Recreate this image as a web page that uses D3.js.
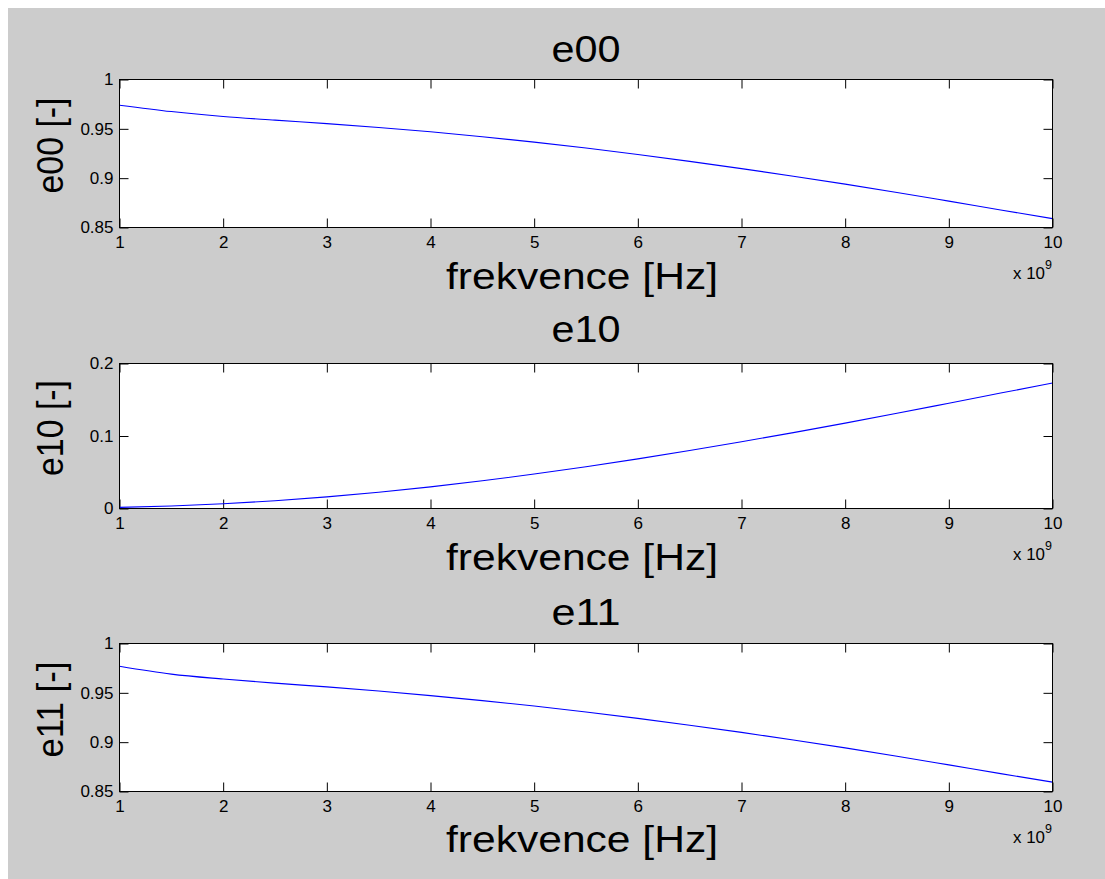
<!DOCTYPE html>
<html><head><meta charset="utf-8">
<script src="https://cdn.jsdelivr.net/npm/d3@7"></script>
<style>
html,body{margin:0;padding:0;background:#fff;}
svg{display:block;}
text{font-family:Arial,"Liberation Sans",sans-serif;fill:#000;}
</style></head>
<body>
<svg id="chart" width="1105" height="879"></svg>
<script>
// frequency in units of 1e9 Hz
const freq = [1,1.5,2,2.5,3,3.5,4,4.5,5,5.5,6,6.5,7,7.5,8,8.5,9,9.5,10];
const e00 = [0.974,0.9675,0.9625,0.9588,0.9553,0.9514,0.9470,0.9420,0.9365,0.9305,0.9240,0.9170,0.9097,0.9020,0.8940,0.8855,0.8767,0.8678,0.8590];
const e10 = [0.0015,0.0035,0.0065,0.0107,0.0160,0.0224,0.0298,0.0382,0.0475,0.0576,0.0684,0.0799,0.0920,0.1047,0.1178,0.1313,0.1452,0.1592,0.1732];
const e11 = [0.977,0.969,0.964,0.9598,0.9560,0.9518,0.9472,0.9421,0.9366,0.9306,0.9241,0.9172,0.9099,0.9022,0.8942,0.8858,0.8770,0.8681,0.8595];
const xTicks = [1,2,3,4,5,6,7,8,9,10];
const yTicksE = [0.85,0.9,0.95,1];
const yTicks10 = [0,0.1,0.2];
const titles = ["e00","e10","e11"];
const yLabels = ["e00 [-]","e10 [-]","e11 [-]"];
const xLabel = "frekvence [Hz]";

const panels = [
  {title:titles[0], ylab:yLabels[0], values:e00, ydom:[0.85,1], yticks:yTicksE, top:79.5, bottom:227.5, titleY:62, xlabY:289},
  {title:titles[1], ylab:yLabels[1], values:e10, ydom:[0,0.2], yticks:yTicks10, top:363.5, bottom:508.5, titleY:342, xlabY:570},
  {title:titles[2], ylab:yLabels[2], values:e11, ydom:[0.85,1], yticks:yTicksE, top:643.5, bottom:791.5, titleY:625, xlabY:852}
];

const svg = d3.select("#chart");
svg.append("rect").attr("x",8).attr("y",8).attr("width",1097).attr("height",871).attr("fill","#cccccc");

const left = 119.5, right = 1052.5;
const x = d3.scaleLinear().domain([1,10]).range([left,right]);
const fmt = d => String(+d.toFixed(2));
const FF = "Arial, Liberation Sans, sans-serif";

panels.forEach(p => {
  const y = d3.scaleLinear().domain(p.ydom).range([p.bottom,p.top]);
  const g = svg.append("g");
  g.append("rect").attr("x",left).attr("y",p.top).attr("width",right-left).attr("height",p.bottom-p.top)
    .attr("fill","#fff").attr("stroke","none");

  // bottom axis (ticks inside)
  const ax = g.append("g").attr("transform",`translate(0,${p.bottom})`)
    .call(d3.axisBottom(x).tickValues(xTicks).tickSize(-9).tickPadding(8).tickFormat(d=>d));
  ax.attr("font-size",null).attr("font-family",null);
  ax.selectAll("text").style("font-size","17px").style("font-family",FF).attr("fill","#000");
  // top axis ticks
  const axT = g.append("g").attr("transform",`translate(0,${p.top})`)
    .call(d3.axisTop(x).tickValues(xTicks).tickSize(-9).tickFormat(""));
  // left axis
  const ay = g.append("g").attr("transform",`translate(${left},0)`)
    .call(d3.axisLeft(y).tickValues(p.yticks).tickSize(-9).tickPadding(6).tickFormat(fmt));
  ay.attr("font-size",null).attr("font-family",null);
  ay.selectAll("text").style("font-size","17px").style("font-family",FF).attr("fill","#000");
  const ayR = g.append("g").attr("transform",`translate(${right},0)`)
    .call(d3.axisRight(y).tickValues(p.yticks).tickSize(-9).tickFormat(""));
  [ax,axT,ay,ayR].forEach(a => { a.selectAll(".domain").remove(); a.selectAll("line").attr("stroke","#000"); });

  // data line
  const line = d3.line().x((d,i)=>x(freq[i])).y(d=>y(d)).curve(d3.curveMonotoneX);
  g.append("path").datum(p.values).attr("d",line).attr("fill","none").attr("stroke","#0000ff").attr("stroke-width",1.1);

  // box
  g.append("rect").attr("x",left).attr("y",p.top).attr("width",right-left).attr("height",p.bottom-p.top)
    .attr("fill","none").attr("stroke","#000").attr("stroke-width",1);

  // title
  g.append("text").attr("x",(left+right)/2).attr("y",p.titleY).attr("text-anchor","middle")
    .attr("font-size","37px").attr("textLength",69).attr("lengthAdjust","spacingAndGlyphs").text(p.title);
  // x label
  g.append("text").attr("x",582).attr("y",p.xlabY).attr("text-anchor","middle")
    .attr("font-size","37px").attr("textLength",272).attr("lengthAdjust","spacingAndGlyphs").text(xLabel);
  // y label
  const cy = (p.top+p.bottom)/2 - 8;
  g.append("text").attr("transform",`translate(63,${cy}) rotate(-90)`).attr("text-anchor","middle")
    .attr("font-size","37px").attr("textLength",96).attr("lengthAdjust","spacingAndGlyphs").text(p.ylab);
  // exponent
  g.append("text").attr("x",1013).attr("y",p.bottom+51).style("font-size","16px")
    .attr("textLength",32).attr("lengthAdjust","spacingAndGlyphs").text("x 10");
  g.append("text").attr("x",1045).attr("y",p.bottom+41).style("font-size","12.5px").text("9");
});
</script>
</body></html>
